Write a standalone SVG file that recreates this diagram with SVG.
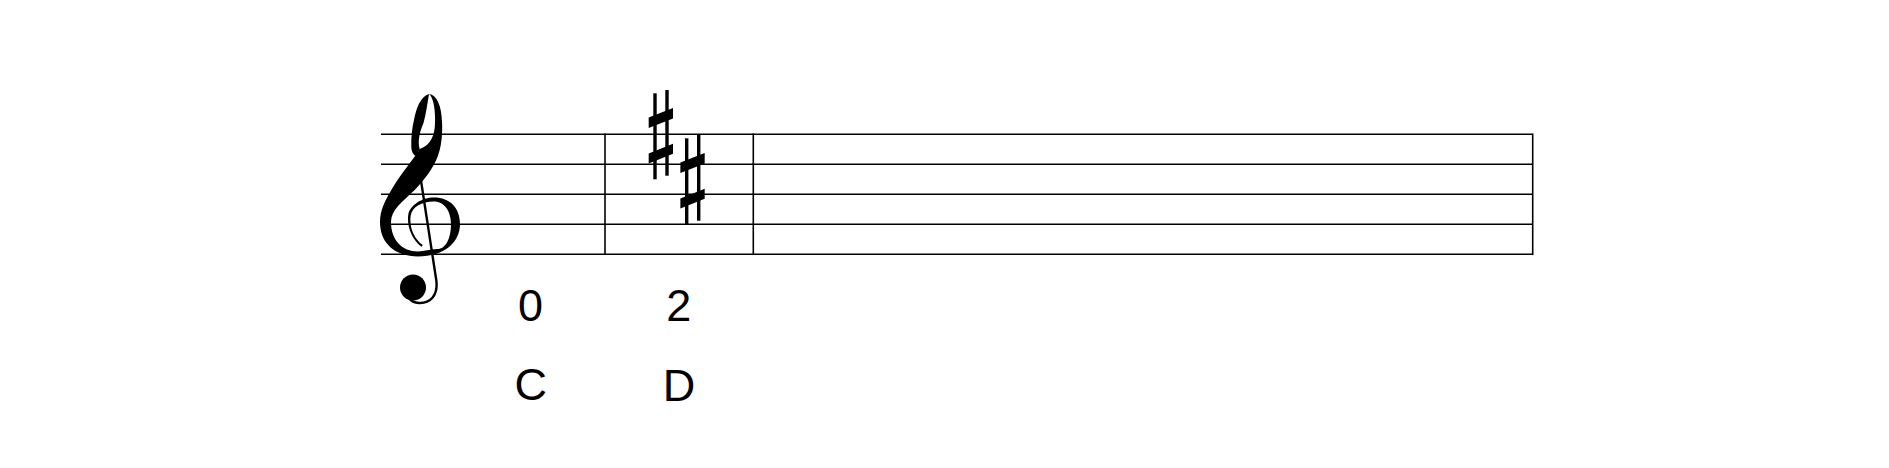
<svg xmlns="http://www.w3.org/2000/svg" xmlns:xlink="http://www.w3.org/1999/xlink" width="1889" height="468" viewBox="0 0 1889 468">
  <style>
    .line { stroke: #000; stroke-width: 1.6; fill: none; }
    .ink { fill: #000; stroke: none; }
    .lbl { font-family: "Liberation Sans", Arial, sans-serif; font-size: 45px; fill: #000; text-anchor: middle; }
  </style>
  <defs>
    <g id="sharp">
      <rect class="ink" x="-7.7" y="-42" width="3.4" height="86"/>
      <rect class="ink" x="4.3" y="-45.3" width="3.4" height="85.7"/>
      <polygon class="ink" points="-12.3,-17.7 12,-27.3 12,-16.9 -12.3,-7.3"/>
      <polygon class="ink" points="-12.3,18.3 12,8.5 12,18.5 -12.3,28.3"/>
    </g>
  </defs>
  <rect width="1889" height="468" fill="#fff"/>

  <g id="staff">
    <line class="line" x1="381" y1="134.3" x2="1532.7" y2="134.3"/>
    <line class="line" x1="381" y1="164.3" x2="1532.7" y2="164.3"/>
    <line class="line" x1="381" y1="194.3" x2="1532.7" y2="194.3"/>
    <line class="line" x1="381" y1="224.3" x2="1532.7" y2="224.3"/>
    <line class="line" x1="381" y1="254.3" x2="1532.7" y2="254.3"/>
    <line class="line" x1="605" y1="133.5" x2="605" y2="255.1"/>
    <line class="line" x1="753.3" y1="133.5" x2="753.3" y2="255.1"/>
    <line class="line" x1="1532.7" y1="133.5" x2="1532.7" y2="255.1"/>
  </g>

  <g id="clef">
    <path class="ink" d="M429,94 C433,97 435.5,108 435,123 C434.8,135 431,145 419.7,149 C413,160 400,175 391.3,190 C385,201 380,210 380,222 C380,244 396,256.5 418,256.5 C442,256.5 460,244 460,224 C460,208 450,197.5 434,197.5 C422,197.5 410,205 408.3,214.6 C406.5,226 412,240 421.4,246.8 L422.8,245 C414,239 409,227 410.7,215.4 C412,207 422,201.5 433.6,201.5 C445,201.5 451,212 451,224 C451,238 446,249.1 437.3,249.1 C430,249.5 424,251.5 418,251.5 C402,251.5 391,240 391,222 C391,210 402,202 414.7,190 C426,178 436,165 439.7,150 C442,141 442.5,130 442,122 C441.5,106 437,95 429,94 Z"/>
    <path class="ink" d="M429,94 C421,96 416,108 414,120 C412,128 411,138 411.3,147 C411.5,152 413.5,155 416,156 L419.7,149 C417.5,142 419.5,132 423.5,123 C426,114 427.5,103 429,94 Z"/>
    <path d="M416.3,150 L436.4,281 C438,296 430,303.5 419,303 C415,302.8 411,301 409,298" fill="none" stroke="#000" stroke-width="2.4"/>
    <circle class="ink" cx="413" cy="287.5" r="13"/>
  </g>

  <g id="key-signature">
    <use xlink:href="#sharp" href="#sharp" x="661" y="135.3"/>
    <use xlink:href="#sharp" href="#sharp" x="692.7" y="180.3"/>
  </g>

  <g id="labels">
    <text class="lbl" x="530.5" y="321">0</text>
    <text class="lbl" x="678.7" y="321">2</text>
    <text class="lbl" x="530.8" y="400.3">C</text>
    <text class="lbl" x="679" y="400.7">D</text>
  </g>
</svg>
